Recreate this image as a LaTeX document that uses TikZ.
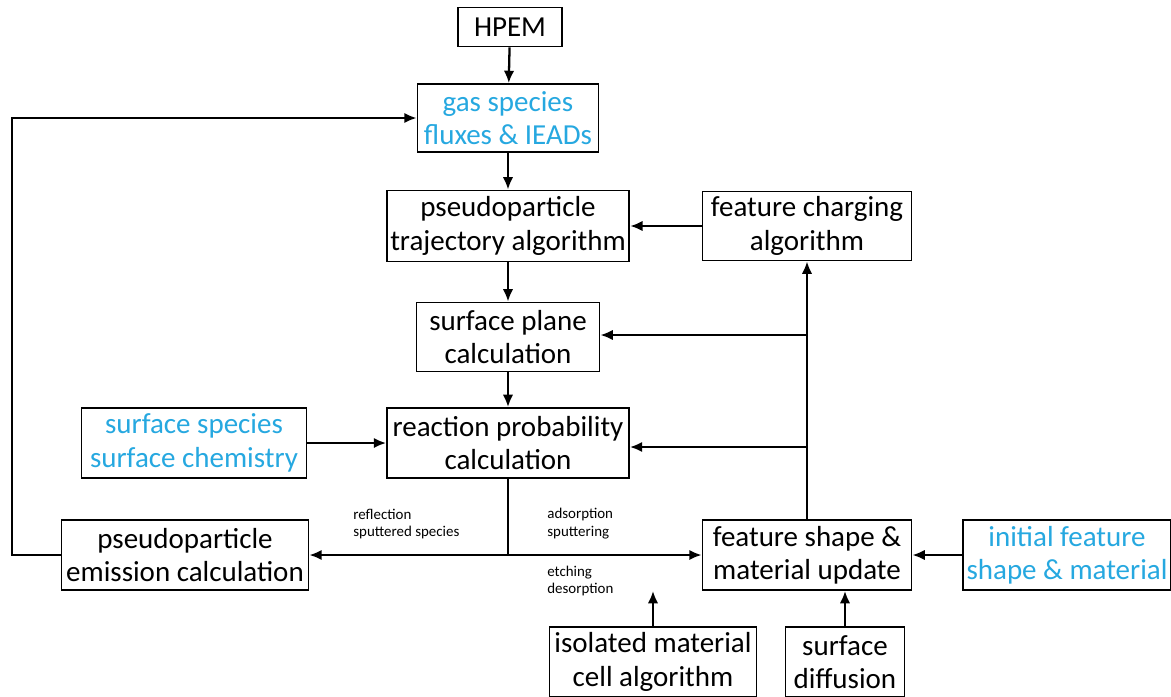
\documentclass[tikz,border=0pt]{standalone}
\usepackage{fontspec}
\setmainfont{Carlito}
\usepackage{xcolor}
\usetikzlibrary{positioning, arrows.meta, calc}

\definecolor{inputblue}{RGB}{38,168,224}

\begin{document}
\begin{tikzpicture}[
				x=0.02cm, y=-0.02cm,
				% --- ESTILOS ---
				box/.style={
					rectangle, draw, line width=1.1pt, fill=white,
					minimum height=1.4cm, inner sep=2pt, align=center,
					font=\fontsize{16.5}{19}\selectfont
				},
				inbox/.style={
					box, text=inputblue
				},
				line/.style={
					draw, -{Latex[length=7pt,width=6pt]}, line width=1.3pt
				},
				plain/.style={
					draw, line width=1.3pt
				},
				smalllabel/.style={
					font=\fontsize{8.5}{10.2}\selectfont, align=left, anchor=west, inner sep=0pt
				}
				]
				\useasboundingbox (0,0) rectangle (1171,697);
				
				% ==========================================
				% 1. Column of the main loop
				% ==========================================
				\node [box, minimum width=2.08cm, minimum height=0.78cm] (hpem) at (510,27) {HPEM};
				\node [inbox, minimum width=3.62cm, minimum height=1.36cm] (gas) at (508,118) {gas species\\fluxes \& IEADs};
				\node [box, minimum width=4.84cm, minimum height=1.42cm] (traj) at (508,226) {pseudoparticle\\trajectory algorithm};
				\node [box, minimum width=3.66cm, minimum height=1.38cm] (plane) at (508,337) {surface plane\\calculation};
				\node [box, minimum width=4.84cm] (react) at (508,443) {reaction probability\\calculation};
				
				\draw [line] (hpem) -- (gas);
				\draw [line] (gas) -- (traj);
				\draw [line] (traj) -- (plane);
				\draw [line] (plane) -- (react);
				
				% ==========================================
				% 2. Side blocks
				% ==========================================
				\node [box, minimum width=4.18cm, minimum height=1.38cm] (charge) at (807,226) {feature charging\\algorithm};
				\node [inbox, minimum width=4.5cm] (surfchem) at (194,443) {surface species\\surface chemistry};
				\node [box, minimum width=4.94cm] (emit) at (185,555) {pseudoparticle\\emission calculation};
				\node [box, minimum width=4.18cm] (update) at (807,555) {feature shape \&\\material update};
				\node [inbox, minimum width=4.1cm] (init) at (1067,555) {initial feature\\shape \& material};
				\node [box, minimum width=4.14cm] (isolated) at (653,662) {isolated material\\cell algorithm};
				\node [box, minimum width=2.38cm] (diff) at (845,662) {surface\\diffusion};
				
				\draw [line] (charge) -- (traj);
				\draw [line] (surfchem) -- (react);
				\draw [line] (init) -- (update);
				\draw [line] (isolated.north) -- (isolated.north |- update.south);
				\draw [line] (diff.north) -- (diff.north |- update.south);
				
				% --- feedback from the shape update ---
				\coordinate (tap_plane) at (update.north |- 0,335);
				\coordinate (tap_react) at (update.north |- 0,447);
				\draw [line] (update.north) -- (charge.south);
				\draw [line] (tap_plane) -- (plane.east |- tap_plane);
				\draw [line] (tap_react) -- (react.east |- tap_react);
				
				% ==========================================
				% 3. Split below the reaction block
				% ==========================================
				\coordinate (split) at (react.south |- emit.east);
				\draw [plain] (react.south) -- (split);
				\draw [line] (split) -- (emit.east);
				\draw [line] (split) -- (update.west);
				
				\node [smalllabel] (lbl_refl) at (353,524) {reflection\\sputtered species};
				\node [smalllabel] (lbl_ads) at (547,524) {adsorption\\sputtering};
				\node [smalllabel] (lbl_etch) at (547,581) {etching\\desorption};
				
				% Linea de retorno
				\coordinate (loop_low) at (12,555);
				\coordinate (loop_high) at (12,118);
				\draw [line] (emit.west) -- (loop_low) -- (loop_high) -- (gas.west);
			\end{tikzpicture}
\end{document}
